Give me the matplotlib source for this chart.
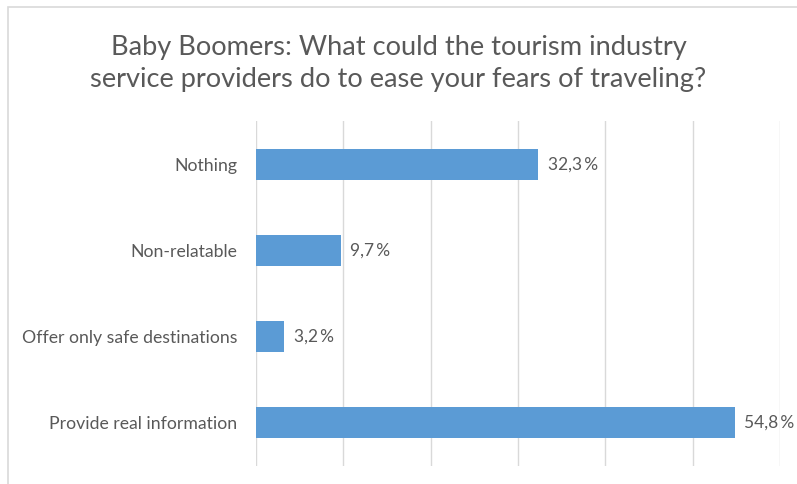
import matplotlib
matplotlib.use("Agg")
import matplotlib.pyplot as plt
from matplotlib.patches import Rectangle

categories = ["Nothing", "Non-relatable", "Offer only safe destinations", "Provide real information"]
shares = [32.3, 9.7, 3.2, 54.8]
x_ticks = [0, 10, 20, 30, 40, 50, 60]

bar_color = "#5B9BD5"
text_color = "#595959"
grid_color = "#D9D9D9"

plt.rcParams["font.family"] = ["Lato", "DejaVu Sans"]

fig = plt.figure(figsize=(7.97, 4.84), dpi=100)
ax = fig.add_axes([256 / 797, 1 - 466 / 484, (780 - 256) / 797, (466 - 121) / 484])

# chart frame, open to the right and bottom
fig.patches.append(Rectangle((8 / 797, -0.1), 1.2, 1 - 7 / 484 + 0.1,
                             transform=fig.transFigure, fill=False,
                             edgecolor="#D9D9D9", linewidth=1.2))

ypos = list(range(len(categories)))
ax.barh(ypos, shares, height=0.36, color=bar_color, zorder=3)
for y, v in zip(ypos, shares):
    ax.text(v + 1.1, y, f"{v:.1f}".replace(".", ",") + "\u2009%",
            va="center", ha="left", fontsize=12.5, color=text_color,
            clip_on=False, family=["Lato", "DejaVu Sans"])

ax.set_xlim(x_ticks[0], x_ticks[-1])
ax.set_ylim(len(categories) - 0.5, -0.5)
ax.set_xticks(x_ticks)
ax.set_xticklabels([])
ax.set_yticks(ypos)
ax.set_yticklabels(categories, fontsize=12.7, color=text_color)
ax.tick_params(axis="both", length=0, pad=13.5)
ax.grid(axis="x", color=grid_color, linewidth=1, zorder=0)
for s in ax.spines.values():
    s.set_visible(False)

fig.text(0.5, 1 - 47 / 484, "Baby Boomers: What could the tourism industry",
         ha="center", va="center", fontsize=19.6, color=text_color)
fig.text(0.5, 1 - 80 / 484, "service providers do to ease your fears of traveling?",
         ha="center", va="center", fontsize=19.6, color=text_color)

fig.savefig("out.png", dpi=100)
